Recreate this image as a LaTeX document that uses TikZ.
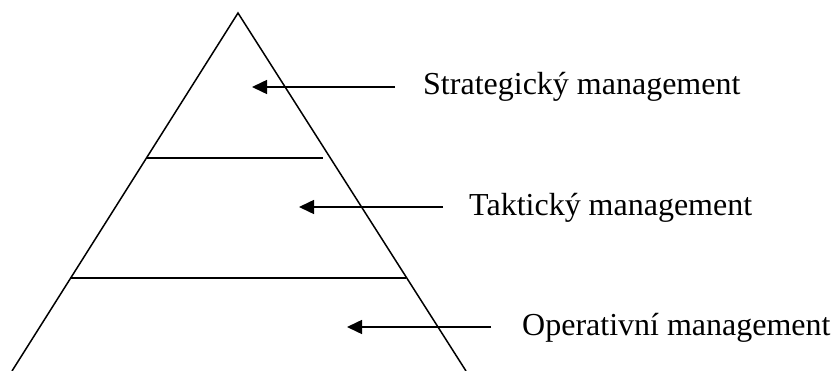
\documentclass[tikz,border=0pt]{standalone}
\usepackage{fontspec}
\setmainfont{Liberation Serif}
\usetikzlibrary{arrows.meta}
\begin{document}
\begin{tikzpicture}[x=1pt,y=-1pt,
  edge/.style={line width=1.5pt},
  pointer/.style={line width=1.5pt,-{Triangle[length=15pt,width=14pt]}},
  level/.style={anchor=base west,inner sep=0pt,font=\fontsize{32}{38}\selectfont}]
\useasboundingbox (0,0) rectangle (834,371);
% pyramid sides
\coordinate (apex) at (238,13);
\coordinate (bl) at (12,371);
\coordinate (br) at (466,371);
\draw[edge,line join=miter] (bl) -- (apex) -- (br);
% level dividers
\coordinate (d1l) at (146,158);
\coordinate (d1r) at (323,158);
\coordinate (d2l) at (70,278);
\coordinate (d2r) at (406,278);
\draw[edge] (d1l) -- (d1r);
\draw[edge] (d2l) -- (d2r);
% labels
\node[level] (strat) at (423,95) {Strategický management};
\node[level] (takt) at (469,215) {Taktický management};
\node[level] (oper) at (522,335) {Operativní management};
% pointers
\coordinate (s-tail) at (395,87);
\coordinate (s-tip) at (252,87);
\coordinate (t-tail) at (443,207);
\coordinate (t-tip) at (299,207);
\coordinate (o-tail) at (491,327);
\coordinate (o-tip) at (347,327);
\draw[pointer] (s-tail) -- (s-tip);
\draw[pointer] (t-tail) -- (t-tip);
\draw[pointer] (o-tail) -- (o-tip);
\end{tikzpicture}
\end{document}
